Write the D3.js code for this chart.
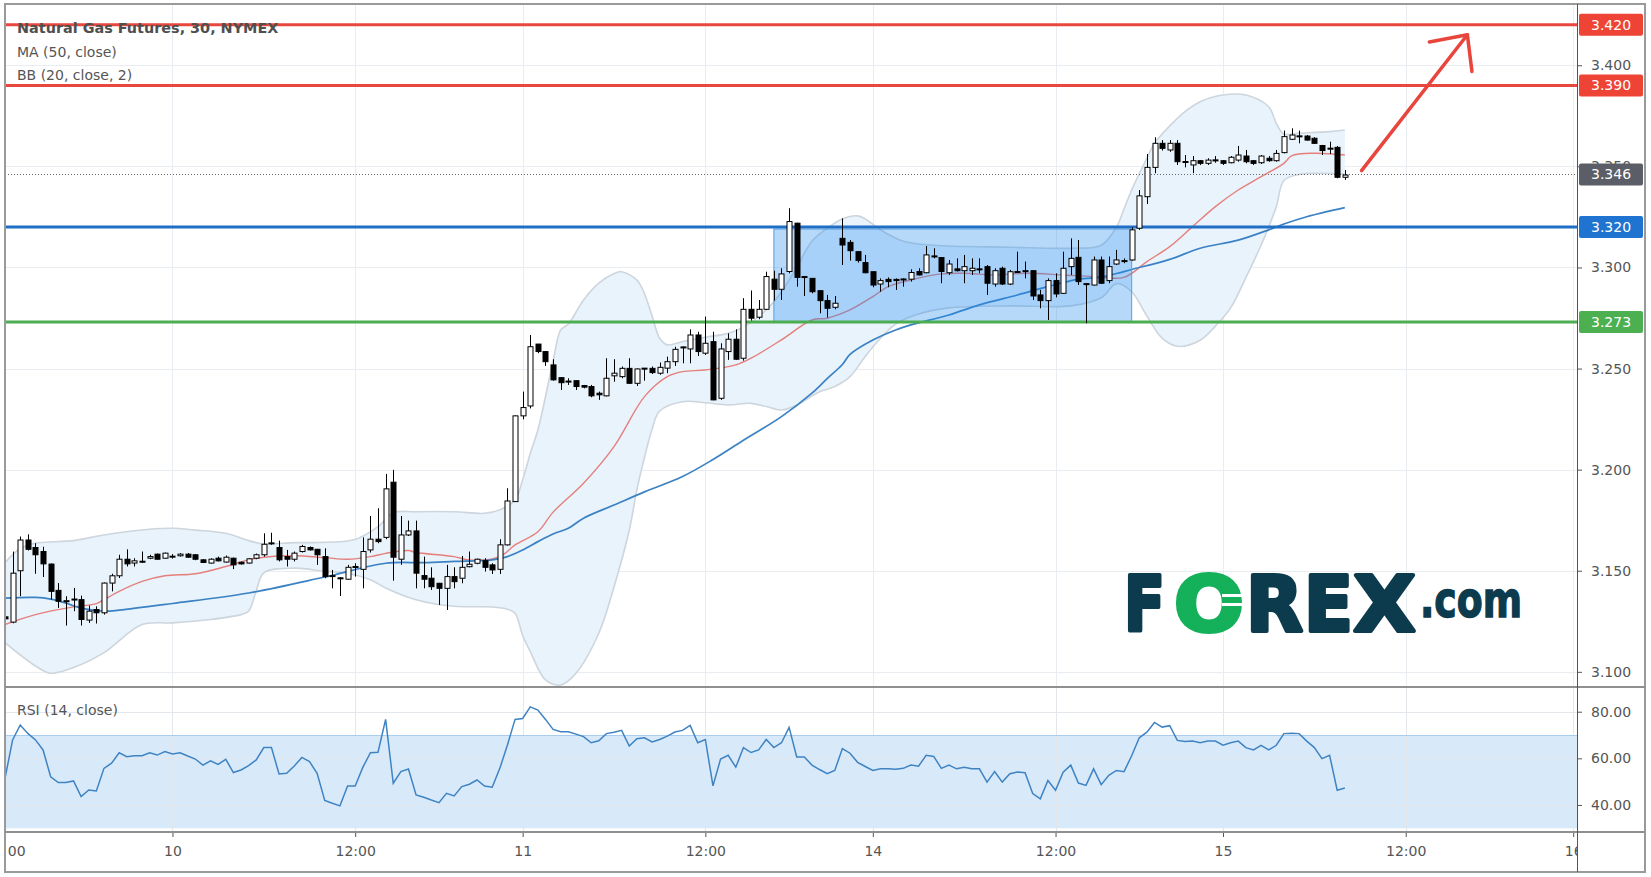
<!DOCTYPE html>
<html><head><meta charset="utf-8">
<script src="https://cdnjs.cloudflare.com/ajax/libs/d3/7.8.5/d3.min.js"></script>
<style>body{margin:0;background:#fff;} svg{display:block;font-family:"DejaVu Sans",sans-serif;}</style>
</head><body>
<svg id="chart" width="1651" height="877"></svg>
<script>
// ---------------- DATA ----------------
const firstBar = -22; // bar index of first candle (Jan 9, 12:00); bar 0 = Jan 10 00:00, 30-min bars
const opens = [
3.1272,3.1246,3.1500,3.1652,3.1615,3.1595,3.1533,3.1403,3.1347,3.1357,
3.1357,3.1256,3.1308,3.1292,3.1439,3.1475,3.1557,3.1538,3.1546,3.1562,
3.1582,3.1562,
3.1570,3.1574,3.1582,3.1579,3.1554,3.1538,3.1562,3.1543,3.1562,3.1542,
3.1538,3.1562,3.1579,3.1636,3.1615,3.1570,3.1557,3.1595,3.1615,3.1606,
3.1570,3.1474,3.1465,3.1458,3.1519,3.1507,3.1603,3.1656,3.1665,3.1938,
3.1557,3.1677,3.1697,3.1476,3.1463,3.1438,3.1413,3.1471,3.1463,3.1520,
3.1537,3.1550,3.1529,3.1507,3.1628,3.1842,3.2266,3.2315,3.2621,3.2584,
3.2518,3.2455,3.2436,3.2440,3.2416,3.2411,3.2378,3.2365,3.2464,3.2460,
3.2501,3.2427,3.2502,3.2501,3.2477,3.2502,3.2534,3.2605,3.2597,3.2666,
3.2576,3.2633,3.2353,3.2584,3.2645,3.2551,3.2793,3.2754,3.2793,3.2942,
3.2892,3.2980,3.3219,3.2955,3.2946,3.2885,3.2836,3.2803,3.3144,3.3124,
3.3078,3.3024,3.2979,3.2918,3.2941,3.2941,3.2943,3.2942,3.2980,3.2974,
3.3057,3.3049,3.2974,3.2993,3.2984,3.2984,3.2993,3.3004,3.2918,3.2996,
3.2918,3.2980,3.2984,3.2984,3.2864,3.2836,3.2935,3.2872,3.3004,3.3050,
3.2920,3.2913,3.3037,3.2935,3.3017,3.3034,3.3037,3.3194,3.3350,3.3495,
3.3614,3.3581,3.3614,3.3524,3.3507,3.3528,3.3515,3.3532,3.3528,3.3518,
3.3531,3.3551,3.3528,3.3518,3.3540,3.3528,3.3568,3.3634,3.3650,3.3650,
3.3639,3.3603,3.3590,3.3594,3.3446];
const highs = [
3.1290,3.1595,3.1669,3.1680,3.1636,3.1619,3.1536,3.1439,3.1374,3.1415,
3.1377,3.1328,3.1324,3.1442,3.1485,3.1579,3.1606,3.1562,3.1595,3.1579,
3.1585,3.1590,
3.1582,3.1587,3.1587,3.1582,3.1557,3.1562,3.1570,3.1575,3.1565,3.1545,
3.1562,3.1585,3.1685,3.1688,3.1649,3.1603,3.1595,3.1628,3.1620,3.1608,
3.1611,3.1504,3.1468,3.1529,3.1537,3.1665,3.1771,3.1809,3.1979,3.1999,
3.1771,3.1748,3.1748,3.1570,3.1517,3.1440,3.1529,3.1517,3.1573,3.1595,
3.1560,3.1562,3.1537,3.1656,3.1908,3.2268,3.2386,3.2666,3.2622,3.2586,
3.2546,3.2457,3.2452,3.2441,3.2419,3.2419,3.2386,3.2551,3.2546,3.2510,
3.2551,3.2501,3.2502,3.2510,3.2530,3.2559,3.2608,3.2609,3.2694,3.2682,
3.2757,3.2682,3.2625,3.2674,3.2694,3.2848,3.2886,3.2839,3.2979,3.2984,
3.2996,3.3293,3.3221,3.2958,3.2947,3.2886,3.2864,3.2859,3.3243,3.3136,
3.3080,3.3062,3.2980,3.2946,3.2951,3.2946,3.2946,3.2991,3.2996,3.3106,
3.3095,3.3050,3.3037,3.3045,3.3062,3.3045,3.3045,3.3012,3.2996,3.3004,
3.2988,3.3078,3.3029,3.2985,3.2889,3.2946,3.2971,3.3078,3.3144,3.3136,
3.2921,3.3054,3.3054,3.3054,3.3087,3.3045,3.3199,3.3383,3.3561,3.3644,
3.3630,3.3630,3.3630,3.3556,3.3551,3.3531,3.3540,3.3551,3.3531,3.3551,
3.3601,3.3581,3.3531,3.3556,3.3551,3.3581,3.3677,3.3688,3.3677,3.3655,
3.3644,3.3606,3.3622,3.3601,3.3482];
const lows = [
3.1240,3.1240,3.1374,3.1600,3.1485,3.1469,3.1357,3.1316,3.1229,3.1300,
3.1229,3.1242,3.1239,3.1283,3.1398,3.1464,3.1521,3.1521,3.1538,3.1557,
3.1555,3.1560,
3.1560,3.1570,3.1565,3.1552,3.1538,3.1535,3.1546,3.1540,3.1508,3.1530,
3.1535,3.1557,3.1570,3.1628,3.1546,3.1521,3.1546,3.1590,3.1600,3.1529,
3.1463,3.1413,3.1375,3.1455,3.1471,3.1413,3.1590,3.1636,3.1656,3.1451,
3.1529,3.1672,3.1413,3.1413,3.1405,3.1331,3.1306,3.1413,3.1438,3.1517,
3.1532,3.1496,3.1484,3.1484,3.1625,3.1840,3.2249,3.2303,3.2576,3.2513,
3.2440,3.2394,3.2419,3.2394,3.2402,3.2358,3.2345,3.2362,3.2435,3.2452,
3.2425,3.2414,3.2440,3.2473,3.2469,3.2477,3.2513,3.2526,3.2526,3.2562,
3.2567,3.2343,3.2345,3.2543,3.2543,3.2539,3.2737,3.2744,3.2790,3.2836,
3.2839,3.2971,3.2905,3.2859,3.2872,3.2773,3.2752,3.2793,3.3012,3.3034,
3.3024,3.2971,3.2902,3.2880,3.2902,3.2889,3.2905,3.2930,3.2961,3.2971,
3.3045,3.2922,3.2963,3.2980,3.2922,3.2963,3.2971,3.2864,3.2905,3.2913,
3.2913,3.2974,3.2946,3.2839,3.2798,3.2740,3.2852,3.2869,3.2963,3.2913,
3.2724,3.2911,3.2918,3.2922,3.3012,3.3021,3.3034,3.3186,3.3314,3.3466,
3.3578,3.3572,3.3507,3.3495,3.3466,3.3507,3.3507,3.3518,3.3507,3.3515,
3.3523,3.3515,3.3507,3.3512,3.3523,3.3523,3.3564,3.3630,3.3614,3.3627,
3.3611,3.3556,3.3561,3.3441,3.3433];
const closes = [
3.1262,3.1488,3.1652,3.1606,3.1579,3.1534,3.1398,3.1349,3.1352,3.1360,
3.1259,3.1300,3.1292,3.1439,3.1475,3.1557,3.1534,3.1549,3.1547,3.1570,
3.1557,3.1587,
3.1572,3.1582,3.1567,3.1557,3.1541,3.1557,3.1549,3.1567,3.1529,3.1534,
3.1559,3.1579,3.1631,3.1638,3.1554,3.1557,3.1587,3.1620,3.1603,3.1579,
3.1471,3.1476,3.1463,3.1517,3.1521,3.1595,3.1656,3.1644,3.1905,3.1567,
3.1677,3.1697,3.1488,3.1458,3.1421,3.1413,3.1471,3.1446,3.1517,3.1532,
3.1557,3.1517,3.1504,3.1628,3.1845,3.2266,3.2307,3.2608,3.2584,3.2534,
3.2444,3.2430,3.2438,3.2411,3.2408,3.2365,3.2370,3.2452,3.2477,3.2501,
3.2427,3.2498,3.2500,3.2480,3.2506,3.2534,3.2595,3.2607,3.2666,3.2584,
3.2625,3.2345,3.2597,3.2645,3.2546,3.2793,3.2749,3.2793,3.2955,3.2892,
3.2968,3.3227,3.2951,3.2953,3.2880,3.2836,3.2798,3.2823,3.3111,3.3083,
3.3034,3.2974,3.2913,3.2935,3.2930,3.2935,3.2942,3.2975,3.2963,3.3062,
3.3056,3.2980,3.3017,3.2984,3.3004,3.2996,3.2992,3.2922,3.2984,3.2918,
3.2979,3.2979,3.2982,3.2859,3.2836,3.2935,3.2869,3.2996,3.3045,3.2930,
3.2918,3.3037,3.2922,3.3004,3.3037,3.3029,3.3186,3.3354,3.3495,3.3614,
3.3589,3.3614,3.3523,3.3522,3.3528,3.3515,3.3531,3.3531,3.3515,3.3545,
3.3556,3.3523,3.3515,3.3551,3.3528,3.3564,3.3647,3.3655,3.3651,3.3630,
3.3614,3.3578,3.3588,3.3446,3.3457];

// MA (50, close)
const maBars   = [-22,-18,-16,-14,-12,-9,-7,0,10,20,28,33,37,42,44,46,48,50,52,54,58,62,67,71,75,80,84,86,88,89,92,95,97,102,106,111,115,119,122,124,126,131,135,140,144,146,149,154];
const maValues = [3.1365,3.1368,3.1360,3.1340,3.1315,3.1300,3.1305,3.1338,3.1390,3.1469,3.1537,3.1540,3.1546,3.1554,3.1570,3.1603,3.1644,3.1682,3.1710,3.1760,3.1825,3.1890,3.1966,3.2050,3.2145,3.2262,3.2378,3.2450,3.2520,3.2570,3.2641,3.2691,3.2716,3.2765,3.2815,3.2864,3.2905,3.2942,3.2952,3.2970,3.2990,3.3040,3.3095,3.3135,3.3186,3.3215,3.3251,3.3296];
// BB (20, close, 2) basis, upper, lower
const basisBars   = [-22,-18,-13,-10,-9,-7,-4,-1,3,7,10,12,16,20,23,26,28,31,32,37,39,43,45,48,50,54,58,62,65,67,70,74,76,80,84,86,89,92,94,97,101,104,108,112,117,121,125,128,131,134,137,140,143,146,147,150,154];
const basisValues = [3.1234,3.1283,3.1321,3.1337,3.1357,3.1398,3.1447,3.1475,3.1485,3.1521,3.1554,3.1567,3.1574,3.1565,3.1557,3.1570,3.1586,3.1600,3.1590,3.1570,3.1553,3.1570,3.1628,3.1693,3.1790,3.1933,3.2114,3.2361,3.2460,3.2485,3.2493,3.2518,3.2551,3.2642,3.2740,3.2749,3.2790,3.2856,3.2905,3.2938,3.2968,3.2971,3.2963,3.2971,3.2963,3.2955,3.2951,3.3029,3.3103,3.3202,3.3301,3.3383,3.3449,3.3515,3.3552,3.3565,3.3556];
const upperBars   = [-22,-20,-18,-13,-9,-3,0,3,7,10,12,16,19,24,27,29,32,37,41,43,45,46,47,48,50,51,52,54,56,58,59,61,62,63,64,65,67,70,73,75,78,80,82,84,86,88,90,91,93,96,100,110,118,122,124,125,126,128,129,131,133,135,138,141,144,145,146,148,152,154];
const upperValues = [3.1540,3.1610,3.1636,3.1649,3.1677,3.1705,3.1710,3.1701,3.1685,3.1649,3.1633,3.1639,3.1640,3.1655,3.1718,3.1787,3.1792,3.1792,3.1784,3.1801,3.1850,3.1950,3.2080,3.2196,3.2537,3.2691,3.2720,3.2839,3.2922,3.2970,3.2979,3.2938,3.2870,3.2760,3.2650,3.2617,3.2633,3.2655,3.2674,3.2705,3.2790,3.2880,3.3000,3.3130,3.3194,3.3240,3.3255,3.3240,3.3186,3.3130,3.3110,3.3100,3.3095,3.3110,3.3200,3.3290,3.3383,3.3540,3.3614,3.3700,3.3771,3.3820,3.3853,3.3853,3.3795,3.3713,3.3660,3.3664,3.3672,3.3680];
const lowerBars   = [-22,-18,-16,-13,-9,-4,0,5,9,10,11,12,16,20,23,26,28,32,37,42,44,45,46,47,49,51,53,56,58,60,61,62,63,64,67,70,73,76,78,80,82,85,87,89,91,93,95,98,102,110,118,122,124,126,128,130,132,135,137,139,141,143,144,145,146,148,154];
const lowerValues = [3.1144,3.1029,3.0993,3.1021,3.1095,3.1234,3.1242,3.1259,3.1283,3.1300,3.1400,3.1490,3.1513,3.1497,3.1488,3.1456,3.1415,3.1357,3.1324,3.1321,3.1310,3.1290,3.1180,3.1100,3.0960,3.0935,3.0993,3.1191,3.1420,3.1700,3.1900,3.2060,3.2200,3.2290,3.2336,3.2331,3.2320,3.2328,3.2312,3.2295,3.2320,3.2385,3.2411,3.2460,3.2560,3.2650,3.2720,3.2770,3.2800,3.2810,3.2810,3.2850,3.2920,3.2880,3.2760,3.2650,3.2610,3.2640,3.2710,3.2800,3.2950,3.3110,3.3200,3.3300,3.3430,3.3460,3.3462];

// RSI (14, close), one value per bar from firstBar
const rsiValues = [
51.4,67.9,74.3,70.7,67.9,63.6,52.1,49.6,49.6,50.3,
43.6,46.4,46.0,55.7,57.9,62.4,60.7,61.1,61.1,62.4,
61.4,62.9,
61.9,62.4,61.0,59.7,57.1,58.9,57.4,59.6,53.9,55.0,
56.9,59.3,64.6,64.6,53.3,53.6,56.7,60.4,58.6,53.6,
41.9,40.7,39.6,48.1,48.1,56.1,62.4,62.6,76.7,49.3,
54.3,55.4,44.3,43.3,42.1,41.0,45.0,43.9,47.9,48.9,
50.7,48.1,47.6,55.7,65.7,76.7,77.1,82.1,80.7,76.7,
72.4,71.4,71.4,70.4,69.3,66.7,67.5,70.6,71.2,72.0,
65.3,68.4,68.8,67.0,68.1,69.5,71.3,72.0,74.1,66.7,
68.1,48.2,59.7,61.3,56.2,64.6,62.5,63.6,68.1,64.6,
66.7,73.3,60.6,60.6,57.1,55.2,53.4,54.8,64.2,62.2,
58.3,56.5,54.8,55.5,55.5,55.3,55.7,57.1,56.6,61.3,
60.8,55.7,57.1,55.5,56.2,55.5,55.5,49.8,54.3,49.8,
53.4,54.1,53.8,44.9,42.6,50.5,46.3,54.1,57.1,49.4,
48.4,55.5,48.7,52.7,54.8,54.3,61.1,68.8,71.2,75.4,
73.4,74.0,67.7,67.2,67.4,66.7,67.4,67.4,65.6,66.7,
67.4,64.6,63.6,65.6,63.6,65.6,70.6,70.8,70.6,67.4,
64.6,59.9,61.3,46.3,47.3];

const tickBars   = [-22, 0, 24, 46, 70, 92, 116, 138, 162, 184];
const tickLabels = ["12:00","10","12:00","11","12:00","14","12:00","15","12:00","16"];
const priceTicks = [3.100, 3.150, 3.200, 3.250, 3.300, 3.350, 3.400];
const rsiTicks   = [40, 60, 80];
const rsiBand    = [30, 70];
const levelPrices = [3.420, 3.390, 3.320, 3.273];
const lastPrice  = 3.346;
const boxBars    = [79, 126];
const boxPrices  = [3.273, 3.319];
const arrowBars   = [156.2, 170.1];
const arrowPrices = [3.3479, 3.4151];
const headBars    = [165.1, 170.1, 170.7];
const headPrices  = [3.4115, 3.4151, 3.3969];
const titleText = "Natural Gas Futures, 30, NYMEX";
const legendMA = "MA (50, close)";
const legendBB = "BB (20, close, 2)";
const legendRSI = "RSI (14, close)";

// ---------------- LAYOUT / STYLE ----------------
const paneL = 5, paneR = 1577, mainTop = 4, mainBot = 687, rsiBot = 832, frameBot = 872, frameR = 1645;
const levelColors = ["#e8473d", "#e8473d", "#1f6fc5", "#4cae50"];
const labelColors = ["#ee4436", "#ee4436", "#1e74d0", "#4caf50"];
const gridColor = "#e9ecf0";
const textColor = "#555";

const svg = d3.select("#chart");
const x = d3.scaleLinear().domain([-22, 184.5]).range([paneL, paneR]);
const y = d3.scaleLinear().domain([3.0925, 3.4303]).range([mainBot, mainTop]);
const yr = d3.scaleLinear().domain([28.4, 90.6]).range([rsiBot, mainBot]);

const defs = svg.append("defs");
defs.append("clipPath").attr("id","clipMain").append("rect")
  .attr("x",paneL).attr("y",mainTop).attr("width",paneR-paneL).attr("height",mainBot-mainTop);
defs.append("clipPath").attr("id","clipRsi").append("rect")
  .attr("x",paneL).attr("y",mainBot).attr("width",paneR-paneL).attr("height",rsiBot-mainBot);
defs.append("clipPath").attr("id","clipX").append("rect")
  .attr("x",paneL+2).attr("y",rsiBot).attr("width",paneR-paneL-2).attr("height",frameBot-rsiBot);

svg.append("rect").attr("width",1651).attr("height",877).attr("fill","#fff");

// ---------- main pane ----------
const main = svg.append("g").attr("clip-path","url(#clipMain)");
main.selectAll("line.hg").data(priceTicks).join("line")
  .attr("x1",paneL).attr("x2",paneR).attr("y1",d=>Math.round(y(d))+0.5).attr("y2",d=>Math.round(y(d))+0.5)
  .attr("stroke",gridColor).attr("stroke-width",1);
main.selectAll("line.vg").data(tickBars).join("line")
  .attr("x1",d=>Math.round(x(d))+0.5).attr("x2",d=>Math.round(x(d))+0.5).attr("y1",mainTop).attr("y2",mainBot)
  .attr("stroke",gridColor).attr("stroke-width",1);

// Bollinger band
const curve = d3.curveCatmullRom.alpha(0.5);
const lineGen = d3.line().x(d=>x(d[0])).y(d=>y(d[1])).curve(curve);
const upperPts = upperBars.map((b,i)=>[b, upperValues[i]]);
const lowerPts = lowerBars.map((b,i)=>[b, lowerValues[i]]);
const upPath = lineGen(upperPts);
const lowRevPath = lineGen(lowerPts.slice().reverse());
main.append("path").attr("d", upPath + "L" + lowRevPath.slice(1) + "Z")
  .attr("fill","#e9f3fc").attr("stroke","none");
main.append("path").attr("d",upPath).attr("fill","none").attr("stroke","#cdd5dd").attr("stroke-width",1.6);
main.append("path").attr("d",lineGen(lowerPts)).attr("fill","none").attr("stroke","#cdd5dd").attr("stroke-width",1.6);

// basis (red) and MA50 (blue)
main.append("path").attr("d",lineGen(basisBars.map((b,i)=>[b,basisValues[i]])))
  .attr("fill","none").attr("stroke","#e57f7c").attr("stroke-width",1.4);
main.append("path").attr("d",lineGen(maBars.map((b,i)=>[b,maValues[i]])))
  .attr("fill","none").attr("stroke","#3b82c4").attr("stroke-width",1.7);

// rectangle drawing
main.append("rect")
  .attr("x",x(boxBars[0])).attr("y",y(boxPrices[1]))
  .attr("width",x(boxBars[1])-x(boxBars[0])).attr("height",y(boxPrices[0])-y(boxPrices[1]))
  .attr("fill","rgba(33,140,240,0.33)").attr("stroke","#5a9fe2").attr("stroke-width",1);

// levels
main.selectAll("line.lvl").data(levelPrices).join("line")
  .attr("x1",paneL).attr("x2",paneR).attr("y1",d=>y(d)).attr("y2",d=>y(d))
  .attr("stroke",(d,i)=>levelColors[i]).attr("stroke-width",3);

// last price dotted
main.append("line").attr("x1",paneL).attr("x2",paneR)
  .attr("y1",Math.round(y(lastPrice))+0.5).attr("y2",Math.round(y(lastPrice))+0.5)
  .attr("stroke","#666").attr("stroke-width",1).attr("stroke-dasharray","1,2");

// candles
const candles = opens.map((o,i)=>({bar:firstBar+i,o,h:highs[i],l:lows[i],c:closes[i]}));
const cg = main.append("g");
cg.selectAll("line.wick").data(candles).join("line")
  .attr("x1",d=>Math.round(x(d.bar))+0.5).attr("x2",d=>Math.round(x(d.bar))+0.5)
  .attr("y1",d=>y(d.h)).attr("y2",d=>y(d.l)).attr("stroke","#000").attr("stroke-width",1);
cg.selectAll("rect.body").data(candles).join("rect")
  .attr("x",d=>Math.round(x(d.bar))-2)
  .attr("y",d=>y(Math.max(d.o,d.c)))
  .attr("width",5)
  .attr("height",d=>Math.max(1, Math.abs(y(d.o)-y(d.c))))
  .attr("fill",d=>d.c>=d.o?"#fff":"#000")
  .attr("stroke","#000").attr("stroke-width",1);

// arrow
const arrowLine = d3.line().x(d=>x(d[0])).y(d=>y(d[1]));
main.append("path").attr("d",arrowLine(arrowBars.map((b,i)=>[b,arrowPrices[i]])))
  .attr("fill","none").attr("stroke","#e8453c").attr("stroke-width",3.5).attr("stroke-linecap","round");
main.append("path").attr("d",arrowLine(headBars.map((b,i)=>[b,headPrices[i]])))
  .attr("fill","none").attr("stroke","#e8453c").attr("stroke-width",3.5).attr("stroke-linecap","round").attr("stroke-linejoin","round");

// logo
const logo = svg.append("g").attr("font-family","'DejaVu Sans',sans-serif").attr("font-weight","bold");
// [letter, visible centre x, textLength, colour]
const logoLetters = [["F",1144.5,41,"#0c3b4e"],["O",1209,70,"#14b05a"],["R",1274.5,57,"#0c3b4e"],["E",1328.5,49,"#0c3b4e"],["X",1384.5,62,"#0c3b4e"]];
logoLetters.forEach(([t,cx,w,col])=>{
  logo.append("text").attr("x",cx-w/2).attr("y",631).attr("font-size",77).attr("fill",col)
    .attr("stroke",col).attr("stroke-width",4).attr("stroke-linejoin","round")
    .attr("textLength",w).attr("lengthAdjust","spacingAndGlyphs").text(t);
});
logo.append("rect").attr("x",1222).attr("y",594).attr("width",22).attr("height",3).attr("fill","#fff");
logo.append("rect").attr("x",1222).attr("y",603).attr("width",22).attr("height",3).attr("fill","#fff");
logo.append("text").attr("x",1420).attr("y",617).attr("font-size",50).attr("fill","#0c3b4e")
  .attr("stroke","#0c3b4e").attr("stroke-width",1.5)
  .attr("textLength",102).attr("lengthAdjust","spacingAndGlyphs").text(".com");

// ---------- RSI pane ----------
const rsi = svg.append("g").attr("clip-path","url(#clipRsi)");
rsi.append("rect").attr("x",paneL).attr("width",paneR-paneL)
  .attr("y",yr(rsiBand[1])).attr("height",yr(rsiBand[0])-yr(rsiBand[1]))
  .attr("fill","#d8eafa");
rsi.selectAll("line.rg").data(rsiTicks).join("line")
  .attr("x1",paneL).attr("x2",paneR).attr("y1",d=>Math.round(yr(d))+0.5).attr("y2",d=>Math.round(yr(d))+0.5)
  .attr("stroke","#e3e7ec").attr("stroke-width",1);
rsi.selectAll("line.vg").data(tickBars).join("line")
  .attr("x1",d=>Math.round(x(d))+0.5).attr("x2",d=>Math.round(x(d))+0.5).attr("y1",mainBot).attr("y2",rsiBot)
  .attr("stroke","#e3e7ec").attr("stroke-width",1);
rsi.append("line").attr("x1",paneL).attr("x2",paneR)
  .attr("y1",Math.round(yr(rsiBand[1]))+0.5).attr("y2",Math.round(yr(rsiBand[1]))+0.5)
  .attr("stroke","#a8cdef").attr("stroke-width",1);
rsi.append("path")
  .attr("d",d3.line().x((d,i)=>x(firstBar+i)).y(d=>yr(d))(rsiValues))
  .attr("fill","none").attr("stroke","#3f83c3").attr("stroke-width",1.5);

// ---------- axes ----------
const fmtP = d3.format(".3f");
const yAxis = svg.append("g").attr("transform",`translate(${paneR},0)`)
  .call(d3.axisRight(y).tickValues(priceTicks).tickFormat(fmtP).tickSize(5).tickPadding(9));
const rAxis = svg.append("g").attr("transform",`translate(${paneR},0)`)
  .call(d3.axisRight(yr).tickValues(rsiTicks).tickFormat(d3.format(".2f")).tickSize(5).tickPadding(9));
const xWrap = svg.append("g").attr("clip-path","url(#clipX)");
const xAxis = xWrap.append("g").attr("transform",`translate(0,${rsiBot})`)
  .call(d3.axisBottom(x).tickValues(tickBars).tickFormat((d,i)=>tickLabels[i]).tickSize(5).tickPadding(9));
[yAxis,rAxis,xAxis].forEach(g=>{
  g.select(".domain").remove();
  g.selectAll("line").attr("stroke","#555");
  g.selectAll("text").attr("fill",textColor).attr("font-size",14).attr("font-family","'DejaVu Sans',sans-serif");
});

// level labels
const lblG = svg.append("g");
const allLabels = levelPrices.map((p,i)=>({p,col:labelColors[i]})).concat([{p:lastPrice,col:"#5b5e66"}]);
allLabels.forEach(d=>{
  const cy = y(d.p);
  lblG.append("rect").attr("x",paneR+2).attr("y",cy-11).attr("width",frameR-paneR-4).attr("height",22)
    .attr("rx",2).attr("fill",d.col);
  lblG.append("text").attr("x",paneR+14).attr("y",cy+5).attr("fill","#fff").attr("font-size",14)
    .text(fmtP(d.p));
});

// frames / separators
const fr = svg.append("g").attr("fill","none");
fr.append("rect").attr("x",paneL).attr("y",mainTop).attr("width",frameR-paneL).attr("height",frameBot-mainTop)
  .attr("stroke","#9a9a9a").attr("stroke-width",2);
fr.append("line").attr("x1",paneL).attr("x2",frameR).attr("y1",mainBot).attr("y2",mainBot).attr("stroke","#8f8f8f").attr("stroke-width",2);
fr.append("line").attr("x1",paneL).attr("x2",frameR).attr("y1",rsiBot).attr("y2",rsiBot).attr("stroke","#8f8f8f").attr("stroke-width",2);
fr.append("line").attr("x1",paneR+0.5).attr("x2",paneR+0.5).attr("y1",mainTop).attr("y2",frameBot).attr("stroke","#555").attr("stroke-width",1);

// legends
const leg = svg.append("g").attr("fill",textColor).attr("font-size",14);
leg.append("text").attr("x",17).attr("y",33).attr("font-weight","bold").attr("font-size",14.4).attr("fill","#4f4f4f").text(titleText);
leg.append("text").attr("x",17).attr("y",57).text(legendMA);
leg.append("text").attr("x",17).attr("y",80).text(legendBB);
leg.append("text").attr("x",17).attr("y",715).text(legendRSI);
</script>
</body></html>
